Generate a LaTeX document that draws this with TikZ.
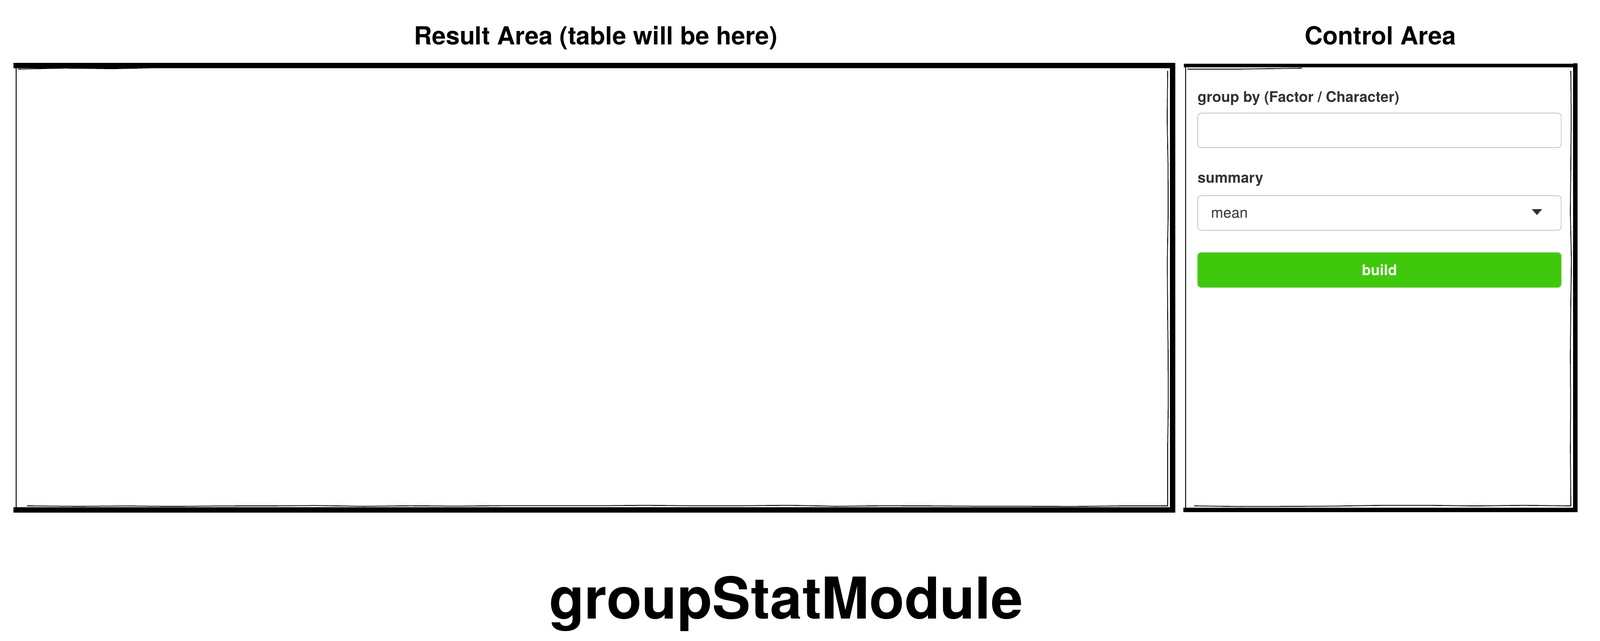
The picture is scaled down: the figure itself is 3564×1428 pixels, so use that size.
\documentclass[tikz,border=0pt]{standalone}
\usepackage{fontspec}
\setmainfont{TeX Gyre Heros}
\usetikzlibrary{decorations.pathmorphing}
\definecolor{buildgreen}{HTML}{40C80C}
\definecolor{labelgrey}{HTML}{333333}
\definecolor{fieldgrey}{HTML}{CCCCCC}

\begin{document}
\begin{tikzpicture}[x=0.01cm, y=-0.01cm,
	heading/.style={anchor=base, font=\fontsize{15.8pt}{19pt}\selectfont\bfseries},
	formlabel/.style={anchor=base west, inner sep=0pt, text=labelgrey, font=\fontsize{9.3pt}{11pt}\selectfont\bfseries},
	field/.style={draw=fieldgrey, line width=0.55pt, rounded corners=2.2pt, anchor=north west,
		minimum width=8.09cm, minimum height=0.77cm, inner sep=0pt},
	brush/.style={line width=#1, line cap=rect},
	scratch/.style={line width=0.5pt, decorate, decoration={random steps, segment length=30pt, amplitude=0.4pt}}]
\useasboundingbox (0,0) rectangle (3564,1428);
%\draw [help lines, step=100] (0,0) grid (3564,1428);

%Titles
\node[heading] (restitle) at (1327,100) {Result Area (table will be here)};
\node[heading] (ctrltitle) at (3075,100) {Control Area};
\node[anchor=base, font=\fontsize{36.5pt}{44pt}\selectfont\bfseries] (modname) at (1751,1378) {groupStatModule};

%Result area frame
\coordinate (rnw) at (36,146);
\coordinate (rne) at (2612,146);
\coordinate (rse) at (2612,1136);
\coordinate (rsw) at (36,1136);
\draw [line width=0.6pt] (rnw) -- (rsw);
\draw [brush=3.6pt] (rnw) -- (rne) -- (rse) -- (rsw);
\draw [scratch] (2601,158) -- (2601,1127) -- (60,1127);
\draw [scratch] (40,154) -- (420,151);

%Control area frame
\coordinate (cnw) at (2641,146);
\coordinate (cne) at (3509,146);
\coordinate (cse) at (3509,1136);
\coordinate (csw) at (2641,1136);
\draw [line width=0.6pt] (cnw) -- (csw);
\draw [brush=2.2pt] (cnw) -- (cne);
\draw [brush=3pt] (cne) -- (cse) -- (csw);
\draw [scratch] (3499,158) -- (3499,1127) -- (2660,1127);
\draw [scratch] (2645,154) -- (2900,152);

%Controls
\node[formlabel] (grouplabel) at (2667,228) {group by (Factor / Character)};
\node[field] (groupfield) at (2667,251) {};
\node[formlabel] (sumlabel) at (2667,408) {summary};
\node[field] (sumfield) at (2667,435) {};
\node[anchor=base west, inner sep=0pt, text=labelgrey, font=\fontsize{9.3pt}{11pt}\selectfont] (sumvalue) at (2697,486) {mean};
\fill [labelgrey] (3412,466) -- (3435,466) -- (3423.5,479) -- cycle;
\node[field, fill=buildgreen, draw=buildgreen!70!fieldgrey, text=white,
	font=\fontsize{9.3pt}{11pt}\selectfont\bfseries] (buildbtn) at (2667,562) {build};

\end{tikzpicture}
\end{document}
